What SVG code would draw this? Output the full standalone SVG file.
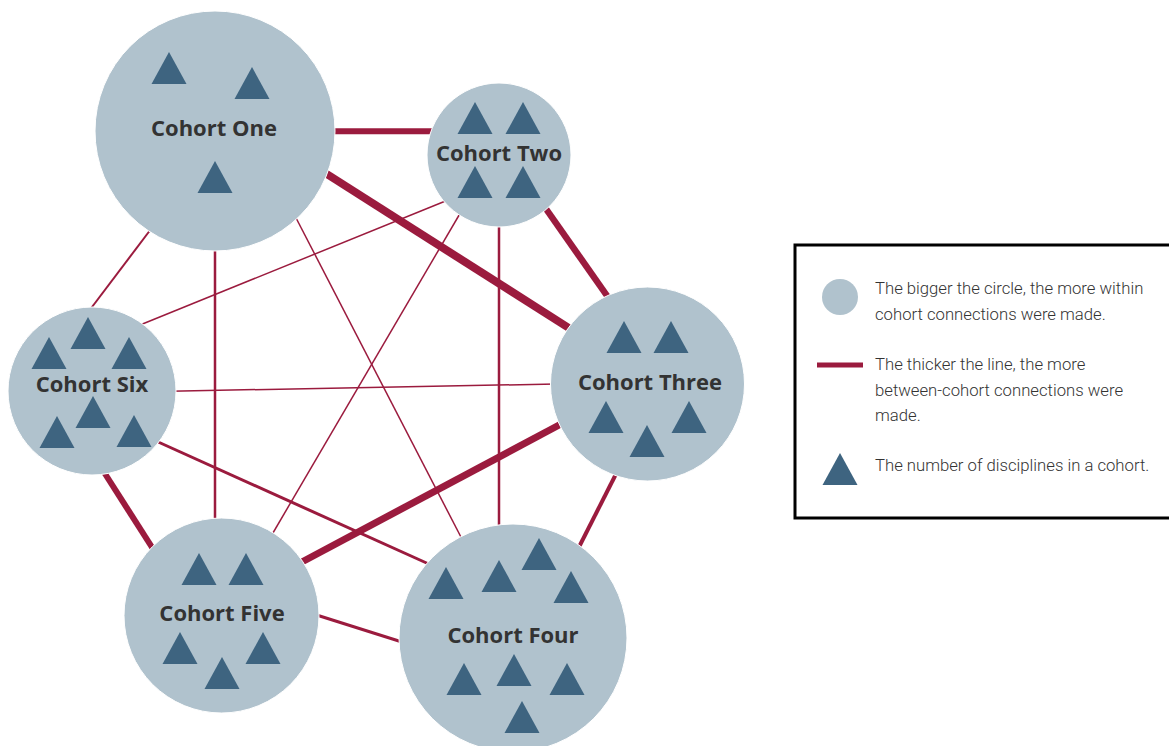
<svg xmlns="http://www.w3.org/2000/svg" xmlns:xlink="http://www.w3.org/1999/xlink" width="1169" height="746" viewBox="0 0 1169 746">
<style>
.c{fill:#b0c2cd;stroke:#ffffff;stroke-width:1}
.t{fill:#3e6480}
.lbl{font-family:"Open Sans","Liberation Sans",sans-serif;font-weight:bold;font-size:22px;fill:#333333;text-anchor:middle}
.e{stroke:#9b1b3e;fill:none;stroke-linecap:butt}
.lg{font-family:Roboto,"Liberation Sans",sans-serif;font-weight:300;font-size:16.7px;fill:#333333}
</style>
<defs>
<path id="tri" d="M0,0 L17.5,32 L-17.5,32 Z"/>
</defs>
<rect width="1169" height="746" fill="#ffffff"/>
<g id="connectors">
<line class="e" x1="330" y1="131.3" x2="435" y2="131.3" stroke-width="6"/>
<line class="e" x1="326" y1="173.5" x2="572" y2="330" stroke-width="8"/>
<line class="e" x1="544" y1="206" x2="610" y2="300" stroke-width="6.5"/>
<line class="e" x1="561" y1="424" x2="300" y2="563" stroke-width="7"/>
<line class="e" x1="102" y1="469" x2="155" y2="552" stroke-width="6"/>
<line class="e" x1="616" y1="474" x2="578" y2="549" stroke-width="4"/>
<line class="e" x1="156" y1="441" x2="431" y2="565" stroke-width="3"/>
<line class="e" x1="315" y1="614.5" x2="402" y2="642" stroke-width="3"/>
<line class="e" x1="215" y1="245" x2="215" y2="525" stroke-width="2.5"/>
<line class="e" x1="499" y1="222" x2="499" y2="530" stroke-width="2.5"/>
<line class="e" x1="151" y1="229" x2="89" y2="311" stroke-width="2"/>
<line class="e" x1="294" y1="214" x2="463" y2="541" stroke-width="1.5"/>
<line class="e" x1="448" y1="200" x2="140" y2="325" stroke-width="1.5"/>
<line class="e" x1="465" y1="205" x2="270" y2="538" stroke-width="1.5"/>
<line class="e" x1="170" y1="391.2" x2="556" y2="384" stroke-width="1.5"/>
</g>
<g id="cohort-one">
<circle class="c" cx="215" cy="131" r="120"/>
<use href="#tri" class="t" x="169" y="52"/>
<use href="#tri" class="t" x="252" y="67"/>
<use href="#tri" class="t" x="215" y="161"/>
<text class="lbl" x="214" y="136">Cohort One</text>
</g>
<g id="cohort-two">
<circle class="c" cx="499" cy="155" r="72"/>
<use href="#tri" class="t" x="475" y="102"/>
<use href="#tri" class="t" x="523" y="102"/>
<use href="#tri" class="t" x="475" y="166"/>
<use href="#tri" class="t" x="523" y="166"/>
<text class="lbl" x="499" y="161">Cohort Two</text>
</g>
<g id="cohort-six">
<circle class="c" cx="92" cy="391" r="84"/>
<use href="#tri" class="t" x="88" y="317"/>
<use href="#tri" class="t" x="49" y="337"/>
<use href="#tri" class="t" x="129" y="337"/>
<use href="#tri" class="t" x="93" y="396"/>
<use href="#tri" class="t" x="57" y="416"/>
<use href="#tri" class="t" x="134" y="415"/>
<text class="lbl" x="92" y="392">Cohort Six</text>
</g>
<g id="cohort-three">
<circle class="c" cx="647.5" cy="384" r="97"/>
<use href="#tri" class="t" x="624" y="321"/>
<use href="#tri" class="t" x="671" y="321"/>
<use href="#tri" class="t" x="606" y="401"/>
<use href="#tri" class="t" x="689" y="401"/>
<use href="#tri" class="t" x="647" y="425"/>
<text class="lbl" x="650" y="390">Cohort Three</text>
</g>
<g id="cohort-five">
<circle class="c" cx="221.5" cy="615.5" r="97.5"/>
<use href="#tri" class="t" x="199" y="553"/>
<use href="#tri" class="t" x="246" y="553"/>
<use href="#tri" class="t" x="180" y="632"/>
<use href="#tri" class="t" x="263" y="632"/>
<use href="#tri" class="t" x="222" y="657"/>
<text class="lbl" x="222" y="621">Cohort Five</text>
</g>
<g id="cohort-four">
<circle class="c" cx="513" cy="638" r="114"/>
<use href="#tri" class="t" x="446" y="567"/>
<use href="#tri" class="t" x="499" y="560"/>
<use href="#tri" class="t" x="539" y="538"/>
<use href="#tri" class="t" x="571" y="571"/>
<use href="#tri" class="t" x="514" y="654"/>
<use href="#tri" class="t" x="464" y="663"/>
<use href="#tri" class="t" x="567" y="663"/>
<use href="#tri" class="t" x="522" y="701"/>
<text class="lbl" x="513" y="643">Cohort Four</text>
</g>
<g id="legend">
<rect x="795" y="245" width="400" height="273" fill="#ffffff" stroke="#000000" stroke-width="3"/>
<circle cx="840" cy="297" r="18" fill="#b0c2cd"/>
<line x1="817" y1="365" x2="863" y2="365" stroke="#9b1b3e" stroke-width="5"/>
<use href="#tri" class="t" x="840" y="453"/>
<text class="lg" x="875" y="294">The bigger the circle, the more within</text>
<text class="lg" x="875" y="320">cohort connections were made.</text>
<text class="lg" x="875" y="370">The thicker the line, the more</text>
<text class="lg" x="875" y="395.5">between-cohort connections were</text>
<text class="lg" x="875" y="421">made.</text>
<text class="lg" x="875" y="471">The number of disciplines in a cohort.</text>
</g>
</svg>
